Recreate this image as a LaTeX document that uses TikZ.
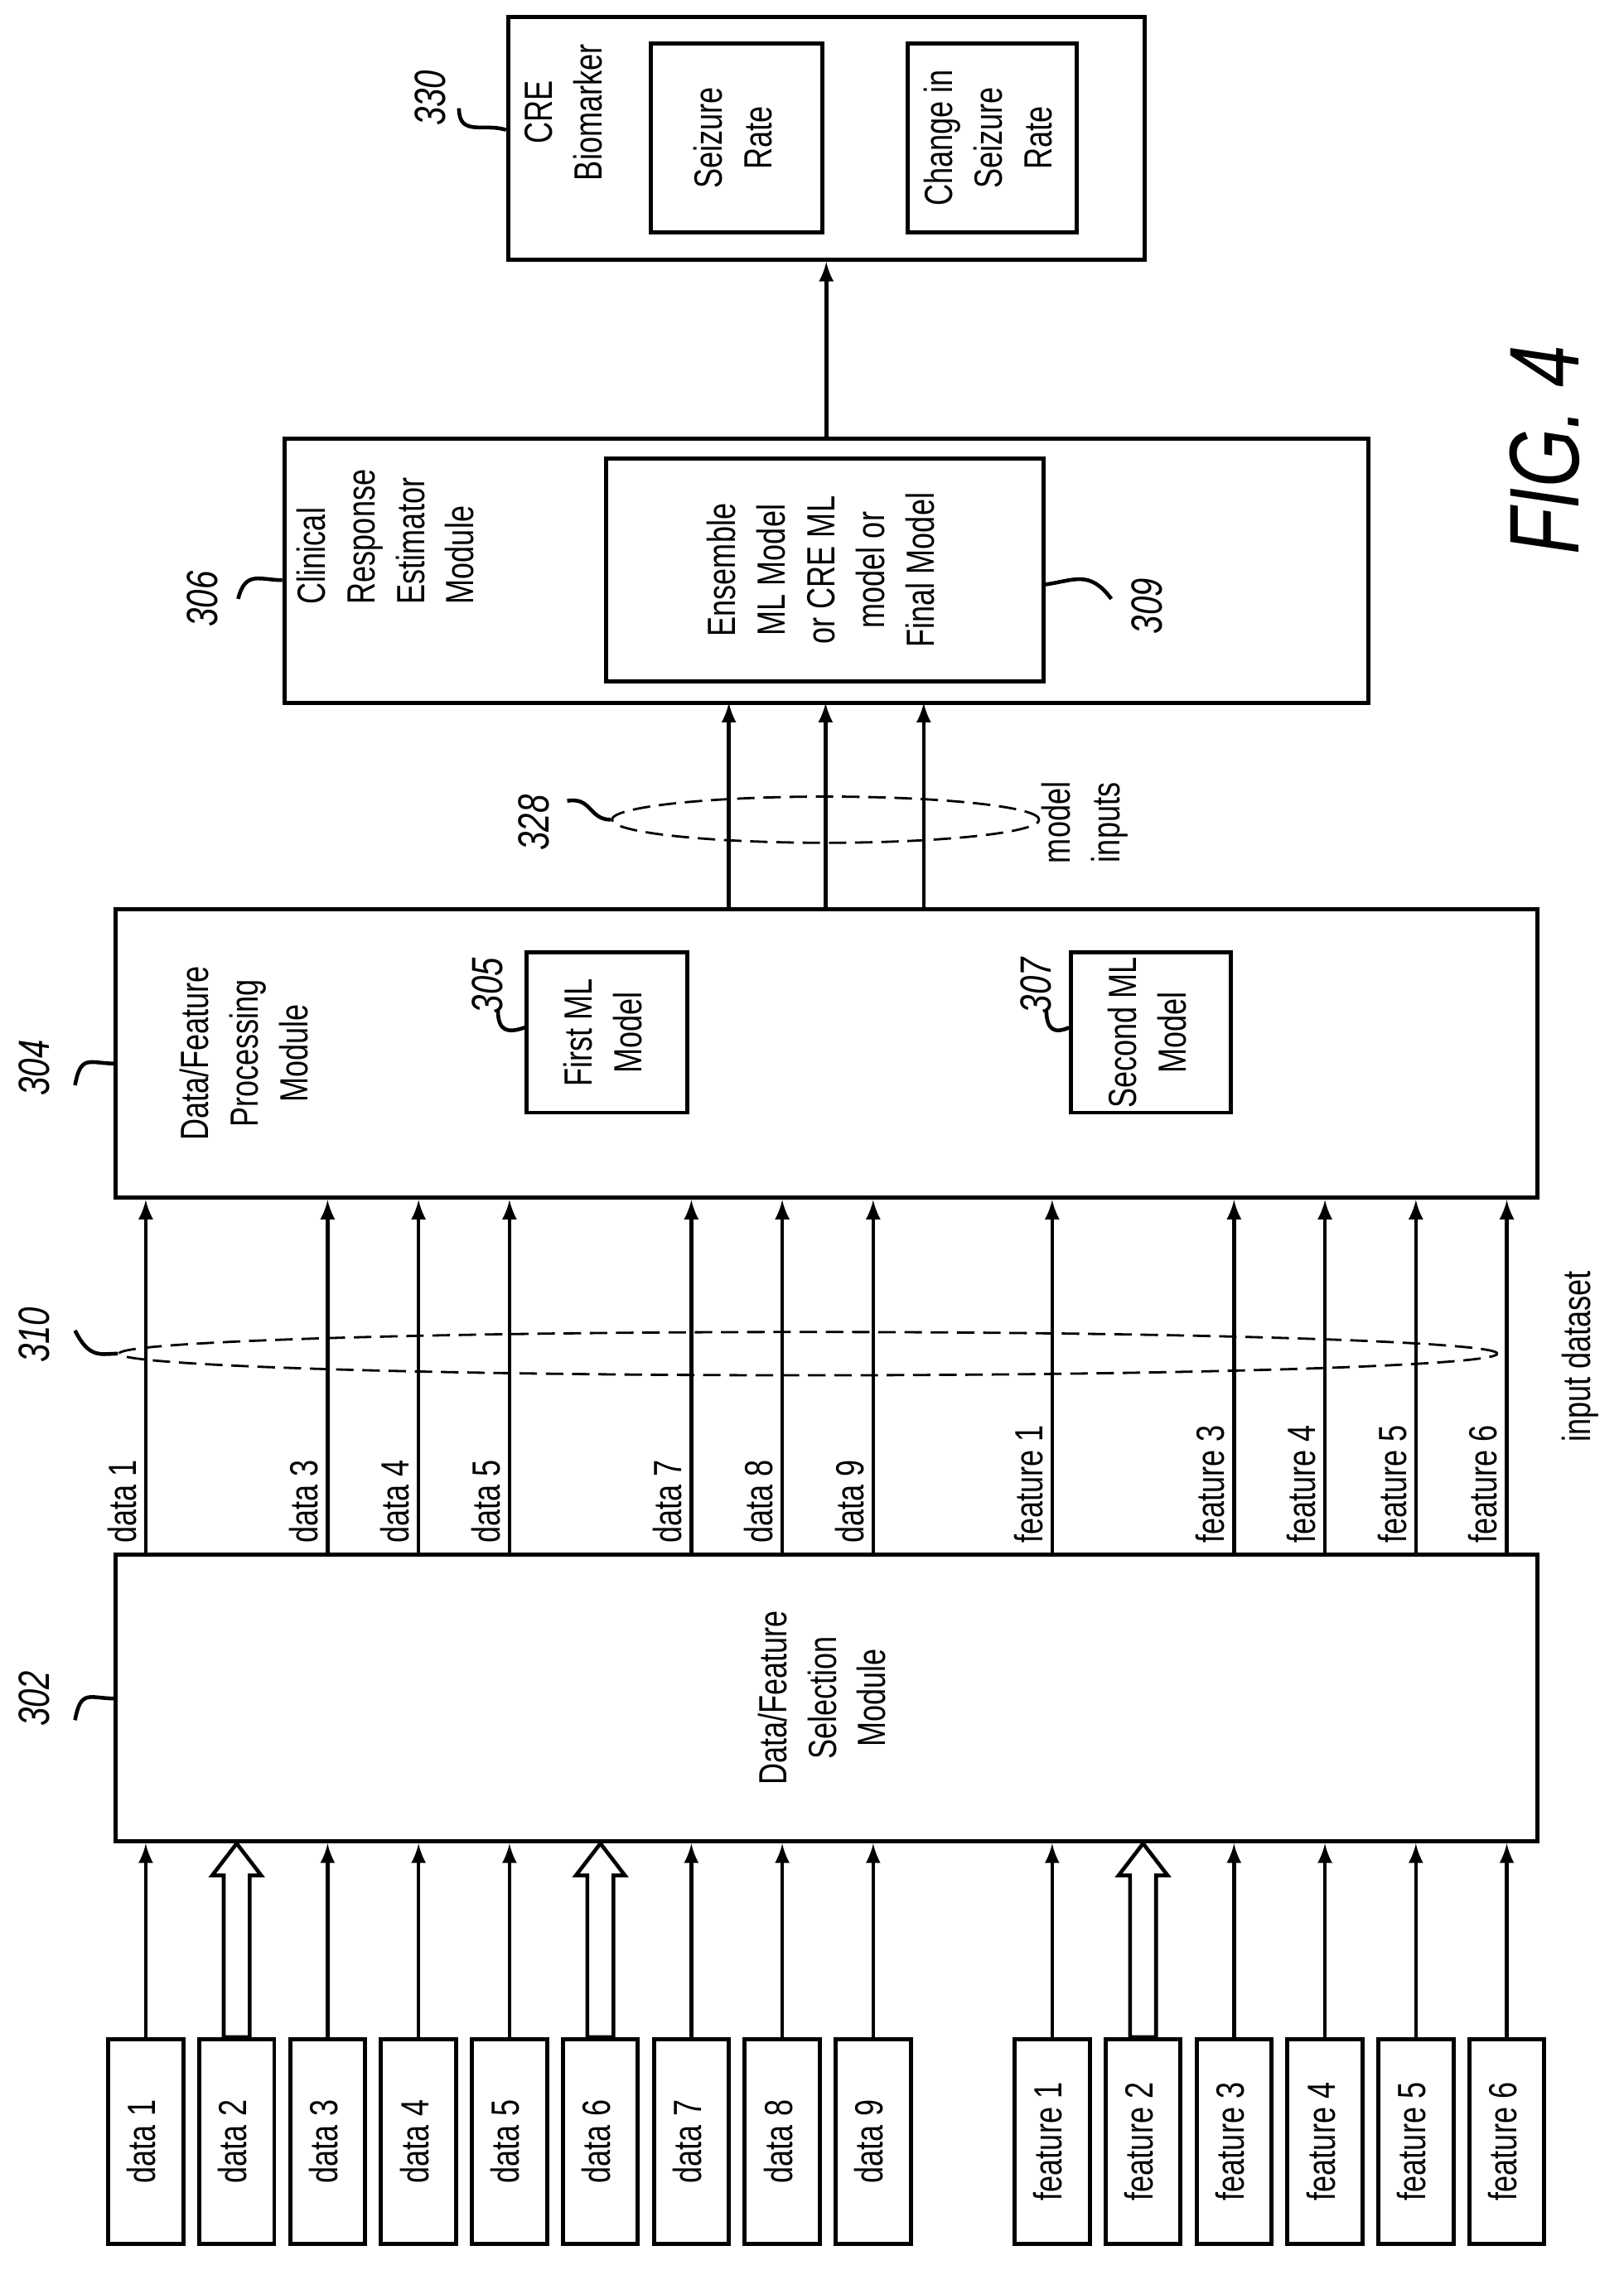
\documentclass[tikz,border=0pt]{standalone}
\usepackage{fontspec}
\setmainfont{Liberation Sans}[FakeStretch=0.76]
\usetikzlibrary{arrows,calc,positioning,shapes.geometric}
\def\u{0.01741cm}
\newcommand{\rt}[1]{\rotatebox{90}{\begin{tabular}{@{}c@{}}#1\end{tabular}}}
\newcommand{\rtl}[1]{\rotatebox{90}{\begin{tabular}{@{}l@{}}#1\end{tabular}}}
\tikzset{
  box/.style={draw, line width=1.4pt, inner sep=0pt},
  inbox/.style={box, minimum width=52*\u, minimum height=142*\u},
  arr/.style={-latex, line width=1.3pt},
  fat/.style={draw, line width=1.3pt, fill=white},
  refnum/.style={font=\itshape\fontsize{15}{17}\selectfont, rotate=90},
  squig/.style={line width=1.3pt},
  oval/.style={draw, dash pattern=on 6pt off 3pt, line width=0.8pt}
}
\begin{document}
\begin{tikzpicture}[x=\u, y=-\u, every node/.style={font=\fontsize{13.5}{17}\selectfont}]
\useasboundingbox (0,0) rectangle (1125,1573);

% input boxes
\foreach \i in {1,...,9}
  \node[inbox] (d\i) at ({101+63*(\i-1)},1484) {\rt{data \i}};
\foreach \i in {1,...,6}
  \node[inbox] (f\i) at ({729+63*(\i-1)},1484) {\rt{feature \i}};

% modules
\node[box, minimum width=985*\u, minimum height=199*\u] (sel) at (572.5,1176.5) {\rt{Data/Feature\\Selection\\Module}};
\node[box, minimum width=985*\u, minimum height=200*\u] (proc) at (572.5,730) {};
\node[anchor=center] (proct) at (172,730) {\rt{Data/Feature\\Processing\\Module}};
\node[box, minimum width=111*\u, minimum height=111*\u] (ml1) at (420.5,715.5) {\rt{First ML\\Model}};
\node[box, minimum width=111*\u, minimum height=111*\u] (ml2) at (797.5,715.5) {\rt{Second ML\\Model}};
\node[box, minimum width=751*\u, minimum height=183*\u] (cre) at (572.5,395.5) {};
\node (cret) at (270,372) {\rtl{Clinical\\Response\\Estimator\\Module}};
\node[box, minimum width=303*\u, minimum height=154*\u] (ens) at (571.5,395) {\rt{Ensemble\\ML Model\\or CRE ML\\model or\\Final Model}};
\node[box, minimum width=441*\u, minimum height=168*\u] (bio) at (572.5,96) {};
\node (biot) at (393,78) {\rt{CRE\\Biomarker}};
\node[box, minimum width=119*\u, minimum height=131*\u] (sr) at (510.5,95.5) {\rt{Seizure\\Rate}};
\node[box, minimum width=117*\u, minimum height=131*\u] (csr) at (687.5,95.5) {\rt{Change in\\Seizure\\Rate}};

% inputs into selection
\foreach \n in {d1,d3,d4,d5,d7,d8,d9,f1,f3,f4,f5,f6}
  \draw[arr] (\n.north) -- (\n.north |- sel.south);
\foreach \n in {d2,d6,f2}
  \filldraw[fat] ($(\n.north)+(-9,0)$) -- ($(\n.north)+(-9,-112)$) -- ($(\n.north)+(-17,-112)$)
    -- (\n.north |- sel.south) -- ($(\n.north)+(17,-112)$) -- ($(\n.north)+(9,-112)$) -- ($(\n.north)+(9,0)$) -- cycle;

% selected data into processing
\foreach \n/\t in {d1/data 1,d3/data 3,d4/data 4,d5/data 5,d7/data 7,d8/data 8,d9/data 9,
                   f1/feature 1,f3/feature 3,f4/feature 4,f5/feature 5,f6/feature 6}{
  \coordinate (s\n) at (\n.north |- sel.north);
  \draw[arr] (s\n) -- (\n.north |- proc.south);
  \node[rotate=90, anchor=south west, inner sep=3pt] at (s\n) {\t};
}
\node[oval, ellipse, minimum width=955*\u, minimum height=30*\u, inner sep=0pt] (ds) at (560,938) {};
\node[rotate=90] (dst) at (1095,940) {input dataset};

% model inputs
\foreach \x in {505,572,640}
  \draw[arr] (\x,630) -- (\x,487);
\node[oval, ellipse, minimum width=296*\u, minimum height=32*\u, inner sep=0pt] (mi) at (572,568) {};
\node (mit) at (752,570) {\rt{model\\inputs}};

\draw[arr] (cre.north) -- (bio.south);

% reference numbers
\node[refnum] (n302) at (24,1177) {302};
\draw[squig] (52,1192) .. controls (56,1170) and (62,1177) .. (80,1177);
\node[refnum] (n304) at (24,740) {304};
\draw[squig] (52,752) .. controls (56,730) and (62,737) .. (80,737);
\node[refnum] (n310) at (24,925) {310};
\draw[squig] (52,922) .. controls (62,942) and (70,938) .. (ds.west);
\node[refnum] (n305) at (338,683) {305};
\draw[squig] (345,700) .. controls (345,715) and (352,716) .. (ml1.west |- 0,712);
\node[refnum] (n307) at (718,683) {307};
\draw[squig] (725,700) .. controls (725,715) and (732,716) .. (ml2.west |- 0,712);
\node[refnum] (n328) at (370,570) {328};
\draw[squig] (393,555) .. controls (410,552) and (408,568) .. (mi.west);
\node[refnum] (n306) at (140,415) {306};
\draw[squig] (165,415) .. controls (170,395) and (180,402) .. (cre.west |- 0,402);
\node[refnum] (n309) at (795,420) {309};
\draw[squig] (ens.east |- 0,405) .. controls (745,402) and (755,395) .. (770,415);
\node[refnum] (n330) at (298,68) {330};
\draw[squig] (318,75) .. controls (318,95) and (335,85) .. (bio.west |- 0,90);

\node[rotate=90, font=\itshape\fontsize{34}{36}\selectfont] (fig) at (1070,312) {FIG. 4};
\end{tikzpicture}
\end{document}
